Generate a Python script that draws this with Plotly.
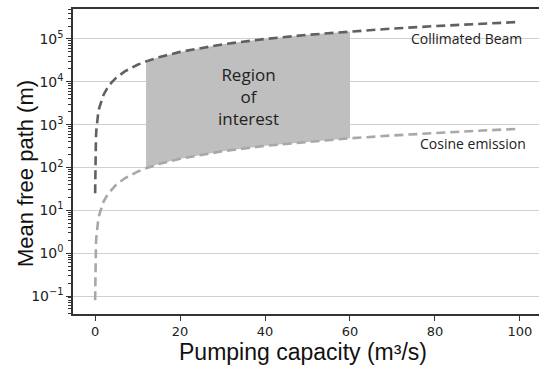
import plotly.graph_objects as go

# Pumping capacity (m^3/s)
pumping = [0.01, 0.02, 0.05, 0.1, 0.2, 0.3, 0.5, 0.7, 1, 1.5, 2, 3, 4, 5, 7, 10,
           12, 15, 20, 30, 40, 50, 60, 70, 80, 90, 100]
# Mean free path (m), collimated beam
collimated = [25, 50, 125, 250, 500, 750, 1250, 1750, 2500, 3750, 5000, 7500, 10000,
              12500, 17500, 25000, 30000, 37500, 50000, 75000, 100000, 125000,
              150000, 175000, 200000, 225000, 250000]
# Mean free path (m), cosine emission
cosine = [0.08, 0.16, 0.4, 0.8, 1.6, 2.4, 4, 5.6, 8, 12, 16, 24, 32, 40, 56, 80,
          96, 120, 160, 240, 320, 400, 480, 560, 640, 720, 800]

region_lo, region_hi = 12, 60
x_ticks = [0, 20, 40, 60, 80, 100]
y_exponents = [-1, 0, 1, 2, 3, 4, 5]
y_ticks = [10 ** e for e in y_exponents]
y_ticktext = ["10<sup>%s</sup>" % ("\u2212" + str(-e) if e < 0 else str(e)) for e in y_exponents]
y_minor = [m * 10 ** e for e in range(-2, 6) for m in range(2, 10)]

idx = [i for i, v in enumerate(pumping) if region_lo <= v <= region_hi]
rx = [pumping[i] for i in idx]

fig = go.Figure()
fig.add_trace(go.Scatter(x=rx, y=[cosine[i] for i in idx], mode="lines",
                         line=dict(width=0), showlegend=False, hoverinfo="skip"))
fig.add_trace(go.Scatter(x=rx, y=[collimated[i] for i in idx], mode="lines",
                         line=dict(width=0), fill="tonexty", fillcolor="#bfbfbf",
                         showlegend=False, hoverinfo="skip"))
fig.add_trace(go.Scatter(x=pumping, y=collimated, mode="lines", name="Collimated Beam",
                         line=dict(color="#606060", width=2.6, dash="9px,5px"),
                         showlegend=False))
fig.add_trace(go.Scatter(x=pumping, y=cosine, mode="lines", name="Cosine emission",
                         line=dict(color="#a8a8a8", width=2.6, dash="9px,5px"),
                         showlegend=False))

ann_font = dict(family="Open Sans, Noto Sans, sans-serif", size=14, color="#222")
fig.add_annotation(x=87.5, y=5.0, text="Collimated Beam", showarrow=False, font=ann_font,
                   xanchor="center", yanchor="middle")
fig.add_annotation(x=89, y=2.56, text="Cosine emission", showarrow=False, font=ann_font,
                   xanchor="center", yanchor="middle")
fig.add_annotation(x=36, y=3.65, text="Region<br>of<br>interest", showarrow=False,
                   xanchor="center", yanchor="middle",
                   font=dict(family="Open Sans, Noto Sans, sans-serif", size=17, color="#222"))

fig.add_annotation(xref="paper", yref="paper", x=-0.103, y=0.459, text="Mean free path (m)",
                   textangle=-90, showarrow=False,
                   font=dict(family="Liberation Sans, Arial", size=22, color="#111"),
                   xanchor="center", yanchor="middle")
fig.add_annotation(xref="paper", yref="paper", x=0.4925, y=-0.125,
                   text="Pumping capacity (m³/s)", showarrow=False,
                   font=dict(family="Liberation Sans, Arial", size=23, color="#111"),
                   xanchor="center", yanchor="middle")

fig.update_layout(
    width=539, height=365,
    margin=dict(l=73, r=0, t=9, b=51, autoexpand=False),
    plot_bgcolor="white", paper_bgcolor="white",
    font=dict(family="DejaVu Sans", size=13, color="#222"),
    xaxis=dict(range=[-5.2, 104.5], tickvals=x_ticks, ticks="outside", ticklen=5,
               tickcolor="#333", showline=True, linecolor="#333", linewidth=1.5,
               mirror=True, showgrid=False, zeroline=False, automargin=False,
               tickfont=dict(family="DejaVu Sans", size=13)),
    yaxis=dict(type="log", range=[-1.42, 5.70], tickvals=y_ticks, ticktext=y_ticktext,
               ticks="outside", ticklen=5, tickcolor="#333", showline=True,
               linecolor="#333", linewidth=1.5, showgrid=True, gridcolor="#d0d0d0",
               gridwidth=1, zeroline=False, automargin=False,
               minor=dict(ticks="outside", ticklen=3, tickcolor="#333", tickwidth=1,
                          tickvals=y_minor, showgrid=False),
               tickfont=dict(family="DejaVu Sans", size=14)),
)

fig.write_html("out.html", config={"displayModeBar": False},
               post_script="document.body.style.margin='0';document.body.style.overflow='hidden';")
